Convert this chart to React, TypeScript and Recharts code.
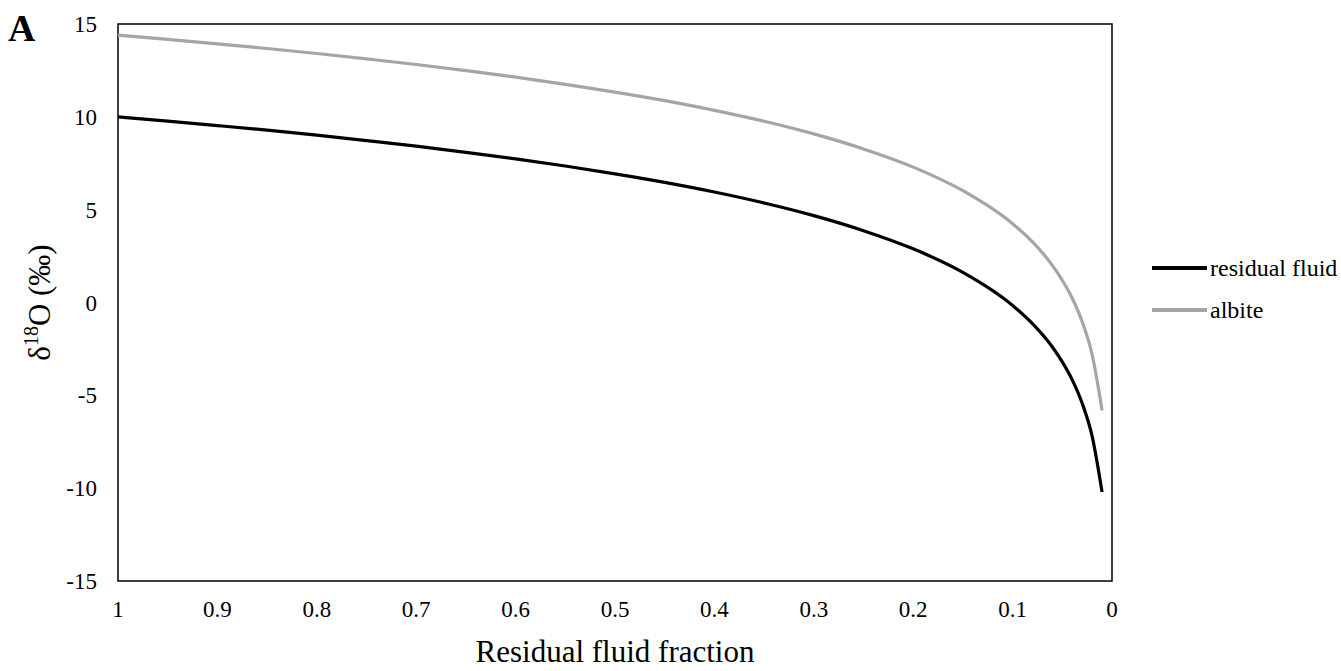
import { LineChart, Line, XAxis, YAxis, Legend, ReferenceArea } from 'recharts';

// residual fluid fraction (x)
const fractions = [1, 0.95, 0.9, 0.85, 0.8, 0.75, 0.7, 0.65, 0.6, 0.55, 0.5, 0.45, 0.4, 0.35, 0.3, 0.25, 0.2, 0.15, 0.1, 0.08, 0.06, 0.05, 0.04, 0.03, 0.02, 0.01];
const fluidValues = [10, 9.77, 9.53, 9.28, 9.01, 8.72, 8.42, 8.09, 7.74, 7.35, 6.93, 6.47, 5.95, 5.36, 4.68, 3.87, 2.89, 1.62, -0.16, -1.14, -2.4, -3.2, -4.17, -5.43, -7.2, -10.21];
const albiteValues = [14.4, 14.17, 13.93, 13.68, 13.41, 13.12, 12.82, 12.49, 12.14, 11.75, 11.33, 10.87, 10.35, 9.76, 9.08, 8.27, 7.29, 6.02, 4.24, 3.26, 2.0, 1.2, 0.23, -1.03, -2.8, -5.81];

const seriesNames = ['residual fluid', 'albite'];
const xTicks = [1, 0.9, 0.8, 0.7, 0.6, 0.5, 0.4, 0.3, 0.2, 0.1, 0];
const yTicks = [-15, -10, -5, 0, 5, 10, 15];

const FONT = '"Times New Roman", "Liberation Serif", serif';

const data = fractions.map((f, i) => ({
    f,
    fluid: fluidValues[i],
    albite: albiteValues[i],
}));

function renderLegend(props: any) {
    // keep the series order, recharts sorts the payload by name
    const items = [...props.payload].sort(
        (a: any, b: any) => seriesNames.indexOf(a.value) - seriesNames.indexOf(b.value)
    );
    return (
        <div style={{ fontFamily: FONT }}>
            {items.map((entry: any) => (
                <div key={entry.value} style={{ display: 'flex', alignItems: 'center', height: 42 }}>
                    <div style={{ width: 55, height: 3.5, background: entry.color }} />
                    <span style={{ marginLeft: 3, fontSize: 24, color: '#000' }}>{entry.value}</span>
                </div>
            ))}
        </div>
    );
}

function YTitle(props: any) {
    const { viewBox } = props;
    const cx = 50;
    const cy = viewBox.y + viewBox.height / 2;
    return (
        <text
            x={cx}
            y={cy}
            transform={`rotate(-90, ${cx}, ${cy})`}
            textAnchor="middle"
            fontFamily={FONT}
            fontSize={31}
            fill="#000"
        >
            δ
            <tspan dy={-12} fontSize={20}>18</tspan>
            <tspan dy={12}>O (‰)</tspan>
        </text>
    );
}

export default function App() {
    return (
        <div style={{ position: 'absolute', left: 0, top: 0, width: 1341, height: 671, background: '#fff' }}>
            <div
                style={{
                    position: 'absolute',
                    left: 8,
                    top: 9,
                    fontFamily: FONT,
                    fontWeight: 'bold',
                    fontSize: 38,
                    lineHeight: '38px',
                }}
            >
                A
            </div>
            <LineChart
                width={1341}
                height={671}
                data={data}
                margin={{ top: 24, right: 229, bottom: 0, left: 18 }}
            >
                <XAxis
                    dataKey="f"
                    type="number"
                    domain={[0, 1]}
                    reversed
                    ticks={xTicks}
                    tickLine={false}
                    axisLine={false}
                    height={90}
                    tickMargin={14}
                    tick={{ fontFamily: FONT, fontSize: 23, fill: '#000' }}
                    label={{
                        value: 'Residual fluid fraction',
                        position: 'insideBottom',
                        offset: 9,
                        style: { fontFamily: FONT, fontSize: 31, fill: '#000' },
                    }}
                />
                <YAxis
                    type="number"
                    domain={[-15, 15]}
                    ticks={yTicks}
                    tickLine={false}
                    axisLine={false}
                    width={100}
                    tickMargin={15}
                    tick={{ fontFamily: FONT, fontSize: 23, fill: '#000' }}
                    label={<YTitle />}
                />
                <ReferenceArea
                    x1={0}
                    x2={1}
                    y1={-15}
                    y2={15}
                    fill="none"
                    stroke="#000"
                    strokeWidth={1.5}
                    ifOverflow="visible"
                />
                <Legend
                    layout="vertical"
                    align="center"
                    verticalAlign="middle"
                    content={renderLegend}
                    wrapperStyle={{ left: 1152, top: 247, width: 189 }}
                />
                <Line
                    dataKey="fluid"
                    name={seriesNames[0]}
                    type="monotoneX"
                    stroke="#000000"
                    strokeWidth={3.2}
                    dot={false}
                    isAnimationActive={false}
                />
                <Line
                    dataKey="albite"
                    name={seriesNames[1]}
                    type="monotoneX"
                    stroke="#a5a5a5"
                    strokeWidth={3.2}
                    dot={false}
                    isAnimationActive={false}
                />
            </LineChart>
        </div>
    );
}
